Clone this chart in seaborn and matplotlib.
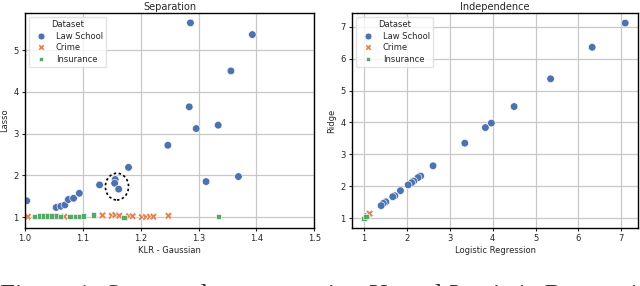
import numpy as np
import pandas as pd
import matplotlib
matplotlib.use('Agg')
import matplotlib.pyplot as plt
from matplotlib.patches import Ellipse
import seaborn as sns

# Separation: KLR - Gaussian (x) vs Lasso (y)
law_klr = [1.003, 1.054, 1.062, 1.069, 1.075, 1.084, 1.094, 1.129, 1.156, 1.155, 1.162,
           1.179, 1.247, 1.313, 1.369, 1.286, 1.393, 1.356, 1.284, 1.296, 1.334]
law_lasso = [1.39, 1.23, 1.26, 1.29, 1.42, 1.45, 1.57, 1.77, 1.90, 1.81, 1.67,
             2.19, 2.72, 1.85, 1.97, 5.65, 5.37, 4.50, 3.64, 3.12, 3.20]
crime_klr = [1.005, 1.068, 1.134, 1.150, 1.156, 1.163, 1.180, 1.186, 1.202, 1.209,
             1.216, 1.222, 1.248]
crime_lasso = [1.01, 1.01, 1.04, 1.03, 1.05, 1.03, 1.02, 1.02, 1.00, 1.00, 1.01, 1.01, 1.03]
ins_klr = [1.017, 1.026, 1.033, 1.040, 1.047, 1.054, 1.061, 1.078, 1.087, 1.094,
           1.101, 1.119, 1.171, 1.335]
ins_lasso = [1.02, 1.03, 1.03, 1.03, 1.03, 1.03, 1.02, 1.02, 1.02, 1.02, 1.03, 1.05, 0.99, 1.01]

# Independence: Logistic Regression (x) vs Ridge (y)
law_lr = [7.09, 6.32, 5.35, 4.50, 3.97, 3.83, 3.35, 2.61, 2.32, 2.26, 2.16, 2.11,
          2.03, 1.85, 1.72, 1.67, 1.51, 1.45, 1.40]
law_ridge = [7.12, 6.36, 5.37, 4.50, 3.98, 3.84, 3.35, 2.64, 2.32, 2.27, 2.16, 2.11,
             2.04, 1.86, 1.70, 1.67, 1.51, 1.46, 1.39]
crime_lr = [1.08, 1.13]
crime_ridge = [1.07, 1.14]
ins_lr = [1.00, 1.05]
ins_ridge = [0.99, 1.04]

caption = "Figure 1: Scatter plots comparing Kernel Logistic Regression"


def make_df(xs, ys, xname, yname):
    names = ["Law School", "Crime", "Insurance"]
    frames = []
    for name, x, y in zip(names, xs, ys):
        frames.append(pd.DataFrame({xname: x, yname: y, "Dataset": name}))
    return pd.concat(frames, ignore_index=True)


sep_df = make_df([law_klr, crime_klr, ins_klr], [law_lasso, crime_lasso, ins_lasso],
                 "KLR - Gaussian", "Lasso")
ind_df = make_df([law_lr, crime_lr, ins_lr], [law_ridge, crime_ridge, ins_ridge],
                 "Logistic Regression", "Ridge")

sns.set_theme(style="ticks", palette="deep")
plt.rcParams['font.family'] = ['DejaVu Sans']
plt.rcParams['axes.edgecolor'] = 'black'
plt.rcParams['axes.linewidth'] = 1.0

fig = plt.figure(figsize=(6.4, 2.86), dpi=100)
ax1 = fig.add_axes([0.039, 0.203, 0.452, 0.752])
ax2 = fig.add_axes([0.550, 0.203, 0.447, 0.752])

for ax, df, x, y, title in [(ax1, sep_df, "KLR - Gaussian", "Lasso", "Separation"),
                            (ax2, ind_df, "Logistic Regression", "Ridge", "Independence")]:
    sns.scatterplot(data=df, x=x, y=y, hue="Dataset", style="Dataset", s=30, ax=ax)
    ax.set_title(title, fontsize=7, pad=2)
    ax.set_xlabel(x, fontsize=6, labelpad=2)
    ax.set_ylabel(y, fontsize=6, labelpad=3)
    ax.tick_params(labelsize=6, length=2.5, width=0.8, pad=2)
    ax.grid(True, color='#c8c8c8', linewidth=0.9)
    ax.set_axisbelow(True)
    leg = ax.legend(title="Dataset", loc="upper left", fontsize=6, title_fontsize=6,
                    frameon=True, markerscale=0.9, borderpad=0.4, labelspacing=0.3)
    leg.get_frame().set_edgecolor('#dddddd')

ax1.set_xlim(1.0, 1.5)
ax1.set_ylim(0.74, 5.89)
ax1.set_xticks([1.0, 1.1, 1.2, 1.3, 1.4, 1.5])
ax1.set_yticks([1, 2, 3, 4, 5])
ax1.add_patch(Ellipse((1.159, 1.73), 0.04, 0.64, fill=False, edgecolor='black',
                      linestyle=(0, (1.5, 1.5)), linewidth=1.2))

ax2.set_xlim(0.72, 7.39)
ax2.set_ylim(0.69, 7.44)
ax2.set_xticks(range(1, 8))
ax2.set_yticks(range(1, 8))

# caption of the paper figure, cut by the bottom edge as in the source image
fig.text(0.0, -0.058, caption, fontsize=19.5, family='Liberation Serif',
         ha='left', va='baseline', color='#333333')

fig.savefig("out.png", dpi=100)
